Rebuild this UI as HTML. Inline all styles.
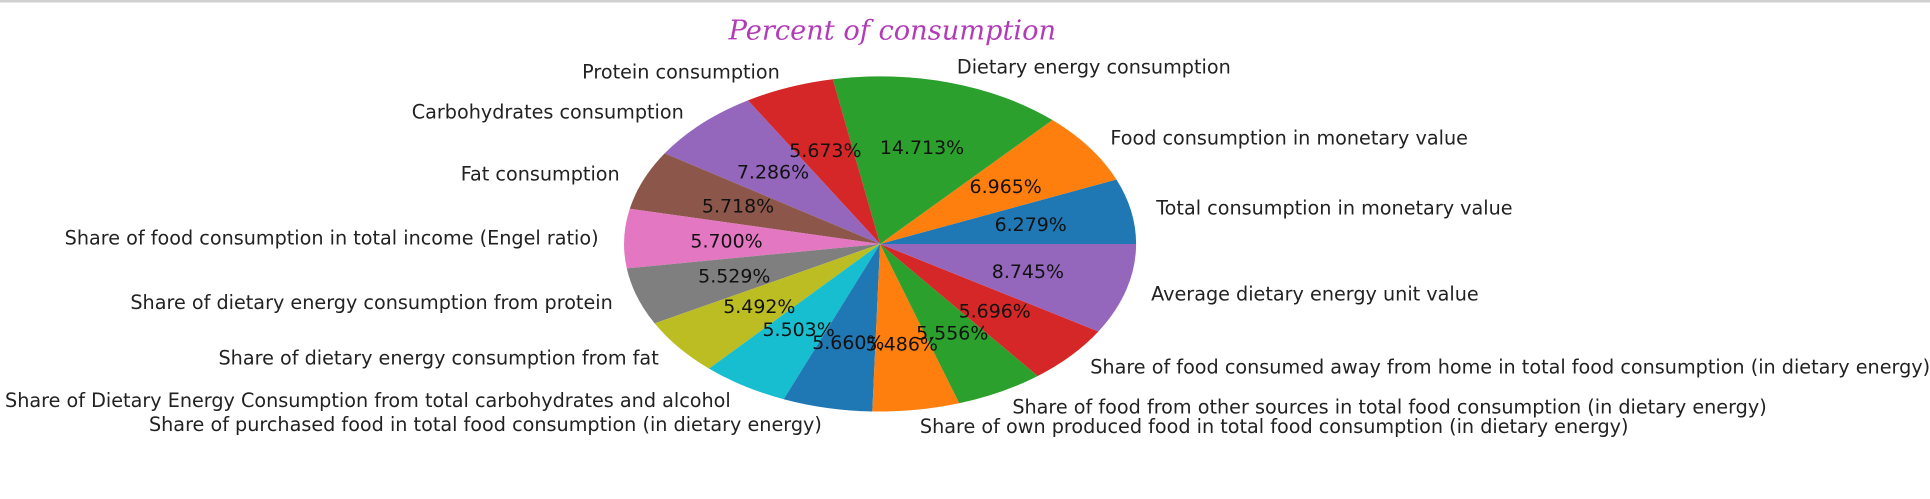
<!DOCTYPE html>
<html><head><meta charset="utf-8"><style>
html,body{margin:0;padding:0;background:#fff;}
svg{display:block;}
</style></head><body>
<svg width="1930" height="499" viewBox="0 0 1568 405" preserveAspectRatio="none" xmlns="http://www.w3.org/2000/svg">
<rect x="0" y="0" width="1568" height="2" fill="#d0d0d0"/>
<text x="725" y="32" text-anchor="middle" font-family="'DejaVu Serif', serif" font-style="italic" font-size="22" fill="#b23cb8" textLength="266" lengthAdjust="spacingAndGlyphs">Percent of consumption</text>
<g id="slices"></g>
<g id="labels"></g>
</svg>
<script>
const categories = ["Total consumption in monetary value","Food consumption in monetary value","Dietary energy consumption","Protein consumption","Carbohydrates consumption","Fat consumption","Share of food consumption in total income (Engel ratio)","Share of dietary energy consumption from protein","Share of dietary energy consumption from fat","Share of Dietary Energy Consumption from total carbohydrates and alcohol","Share of purchased food in total food consumption (in dietary energy)","Share of own produced food in total food consumption (in dietary energy)","Share of food from other sources in total food consumption (in dietary energy)","Share of food consumed away from home in total food consumption (in dietary energy)","Average dietary energy unit value"];
const values = [6.279,6.965,14.713,5.673,7.286,5.718,5.700,5.529,5.492,5.503,5.660,5.486,5.556,5.696,8.745];
const pctLabels = ["6.279%","6.965%","14.713%","5.673%","7.286%","5.718%","5.700%","5.529%","5.492%","5.503%","5.660%","5.486%","5.556%","5.696%","8.745%"];
const colors = ["#1f77b4","#ff7f0e","#2ca02c","#d62728","#9467bd","#8c564b","#e377c2","#7f7f7f","#bcbd22","#17becf","#1f77b4","#ff7f0e","#2ca02c","#d62728","#9467bd"];
const NS="http://www.w3.org/2000/svg";
const cx=715, cy=198, rx=208, ry=136;
const total=values.reduce((a,b)=>a+b,0);
function px(a,r){return cx+Math.cos(a)*r*rx;}
function py(a,r){return cy-Math.sin(a)*r*ry;}
const gs=document.getElementById('slices'), gl=document.getElementById('labels');
let start=0;
values.forEach((v,i)=>{
  const sweep=v/total*2*Math.PI, end=start+sweep, mid=start+sweep/2;
  const p=document.createElementNS(NS,'path');
  const large=sweep>Math.PI?1:0;
  p.setAttribute('d',`M${cx},${cy} L${px(start,1)},${py(start,1)} A${rx},${ry} 0 ${large} 0 ${px(end,1)},${py(end,1)} Z`);
  p.setAttribute('fill',colors[i]);
  
  
  gs.appendChild(p);
  const t=document.createElementNS(NS,'text');
  t.setAttribute('x',px(mid,0.6));t.setAttribute('y',py(mid,0.6)+5.5);
  t.setAttribute('text-anchor','middle');
  t.setAttribute('font-family','DejaVu Sans, sans-serif');t.setAttribute('font-size','15.4');
  t.setAttribute('fill','#111');
  t.textContent=pctLabels[i];
  
  
  gl.appendChild(t);
  const l=document.createElementNS(NS,'text');
  const lx=px(mid,1.1);
  l.setAttribute('x',lx);l.setAttribute('y',py(mid,1.1)+5.5);
  l.setAttribute('text-anchor',Math.cos(mid)>=0?'start':'end');
  l.setAttribute('font-family','DejaVu Sans, sans-serif');l.setAttribute('font-size','15.6');
  l.setAttribute('fill','#222');
  l.textContent=categories[i];
  
  
  gl.appendChild(l);
  start=end;
});
</script>
</body></html>
